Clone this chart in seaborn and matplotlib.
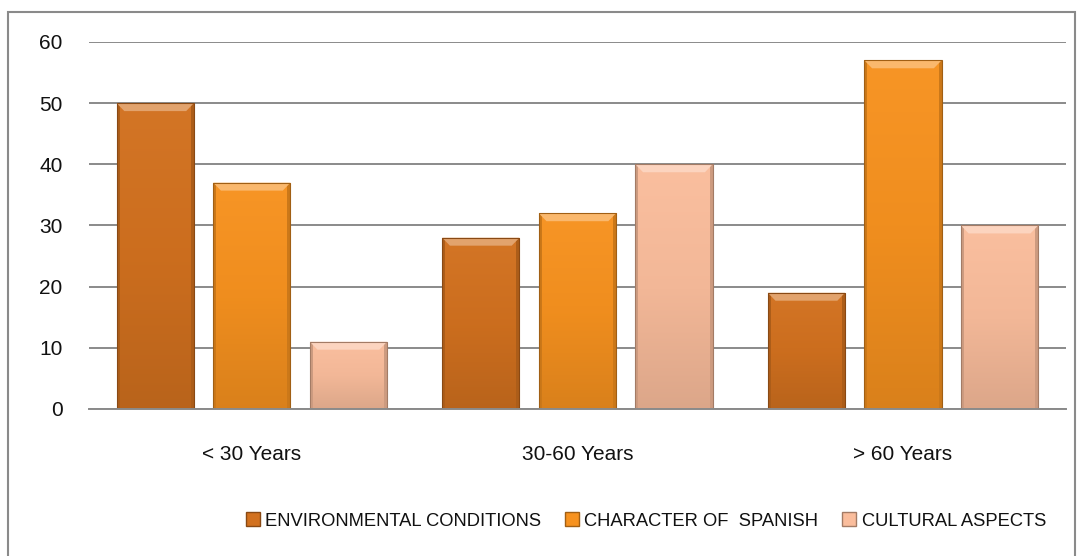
import numpy as np
import pandas as pd
import matplotlib
matplotlib.use("Agg")
import matplotlib.pyplot as plt
import matplotlib.colors as mcolors
from matplotlib.patches import Rectangle, Polygon
import seaborn as sns

groups = ["< 30 Years", "30-60 Years", "> 60 Years"]
series = ["ENVIRONMENTAL CONDITIONS", "CHARACTER OF  SPANISH", "CULTURAL ASPECTS"]
environmental = [50, 28, 19]
character = [37, 32, 57]
cultural = [11, 40, 30]
yticks = [0, 10, 20, 30, 40, 50, 60]

colors = ["#D2711F", "#F7921F", "#FABD9C"]

df = pd.DataFrame({
    "group": groups * 3,
    "series": [series[0]] * 3 + [series[1]] * 3 + [series[2]] * 3,
    "value": environmental + character + cultural,
})

sns.set_theme(style="white")
plt.rcParams["font.family"] = ["Liberation Sans", "DejaVu Sans"]

fig = plt.figure(figsize=(10.82, 5.56), dpi=100)
ax = fig.add_axes([0.0823, 0.2644, 0.9027, 0.6601])

sns.barplot(data=df, x="group", y="value", hue="series", hue_order=series,
            palette=colors, width=0.89, gap=0.2, ax=ax, legend=False,
            saturation=1)

ax.set_ylim(0, 60)
ax.set_xlim(-0.5, 2.5)
ax.set_yticks(yticks)
ax.set_yticklabels([str(t) for t in yticks], fontsize=15, color="#111111")
ax.tick_params(axis="x", labelsize=15, colors="#111111", pad=26, length=0)
ax.tick_params(axis="y", pad=19, length=0)
ax.set_xlabel("")
ax.set_ylabel("")
ax.yaxis.grid(True, color="#8a8a8a", linewidth=1.4)
ax.set_axisbelow(True)
for s in ["left", "right", "top"]:
    ax.spines[s].set_visible(False)
ax.spines["bottom"].set_color("#8a8a8a")
ax.spines["bottom"].set_linewidth(1.4)


def shade(c, f):
    r, g, b = mcolors.to_rgb(c)
    if f >= 0:
        return (r + (1 - r) * f, g + (1 - g) * f, b + (1 - b) * f)
    return (r * (1 + f), g * (1 + f), b * (1 + f))


# Bevelled look: soft vertical gradient clipped to each bar, light top bevel
for patch in list(ax.patches):
    base = patch.get_facecolor()
    x0, y0 = patch.get_x(), patch.get_y()
    w, h = patch.get_width(), patch.get_height()
    if h <= 0:
        continue
    z = patch.get_zorder()
    cmap = mcolors.LinearSegmentedColormap.from_list(
        "g", [shade(base, -0.12), shade(base, -0.03), shade(base, 0.03)])
    grad = np.linspace(0, 1, 256).reshape(-1, 1)
    im = ax.imshow(grad, extent=[x0, x0 + w, y0, y0 + h], origin="lower",
                   cmap=cmap, aspect="auto", zorder=z)
    im.set_clip_path(patch)
    # darker side strips
    side = w * 0.04
    for sx in (x0, x0 + w - side):
        ax.add_patch(Rectangle((sx, y0), side, h, facecolor=shade(base, -0.18),
                               edgecolor="none", zorder=z + 0.05))
    # light bevel along the top edge
    cap = min(1.3, h * 0.5)
    inset = w * 0.1
    ax.add_patch(Polygon([(x0, y0 + h), (x0 + w, y0 + h),
                          (x0 + w - inset, y0 + h - cap), (x0 + inset, y0 + h - cap)],
                         closed=True, facecolor=shade(base, 0.35),
                         edgecolor="none", zorder=z + 0.08))
    patch.set_edgecolor(shade(base, -0.35))
    patch.set_linewidth(0.8)
    patch.set_zorder(z + 0.1)
    patch.set_facecolor("none")
ax.set_xlim(-0.5, 2.5)
ax.set_ylim(0, 60)

# Legend with square markers
handles = [Rectangle((0, 0), 1, 1, facecolor=c, edgecolor=shade(c, -0.35))
           for c in colors]
fig.legend(handles, series, loc="center", bbox_to_anchor=(0.597, 0.063),
           ncol=3, frameon=False, handlelength=0.75, handleheight=0.75,
           handletextpad=0.3, columnspacing=1.3, labelcolor="#111111",
           prop={"family": ["Liberation Sans", "DejaVu Sans"], "size": 13.2})

# Outer chart border
fig.add_artist(Rectangle((8 / 1082, -0.01), 1067 / 1082, 1 - 12 / 556 + 0.01,
                         transform=fig.transFigure, fill=False,
                         edgecolor="#8a8a8a", linewidth=1.5))

fig.savefig("out.png", dpi=100)
